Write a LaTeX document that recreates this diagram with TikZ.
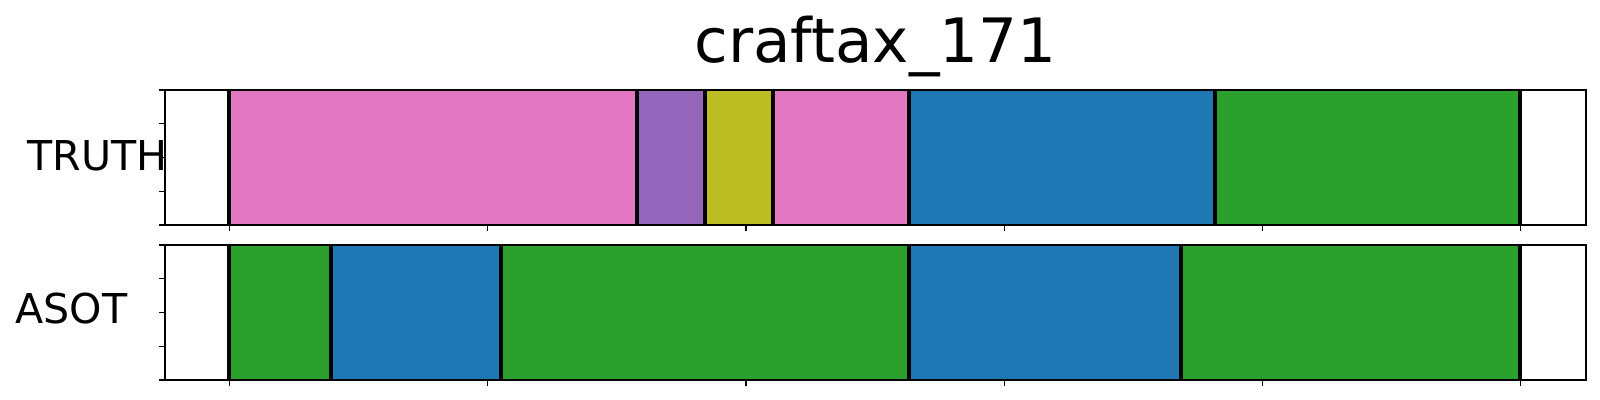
\documentclass[tikz,border=0pt]{standalone}
\usepackage{fontspec}
\setmainfont{DejaVu Sans}
\usepackage{tikz}

\definecolor{tabpink}{HTML}{E377C2}
\definecolor{tabpurple}{HTML}{9467BD}
\definecolor{tabolive}{HTML}{BCBD22}
\definecolor{tabblue}{HTML}{1F77B4}
\definecolor{tabgreen}{HTML}{2CA02C}

\begin{document}
\begin{tikzpicture}
  [x=0.01cm,y=-0.01cm,
   frame/.style={draw=black,line width=0.57pt},
   bound/.style={draw=black,line width=1.1pt},
   tick mark/.style={draw=black,line width=0.4pt},
   row label/.style={font=\fontsize{11.7pt}{14pt}\selectfont,anchor=base,inner sep=0pt},
   title label/.style={font=\fontsize{17.4pt}{21pt}\selectfont,anchor=base,inner sep=0pt}]
  \useasboundingbox (0,0) rectangle (1600,400);

  \node[title label] (title) at (875.5,62.3) {craftax\_171};
  \node[row label] (truth) at (97.5,170) {TRUTH};
  \node[row label] (asot) at (71.4,323.3) {ASOT};

  % TRUTH row
  \fill[tabpink] (229.3,90) rectangle (636.7,225);
  \fill[tabpurple] (636.7,90) rectangle (705,225);
  \fill[tabolive] (705,90) rectangle (772.7,225);
  \fill[tabpink] (772.7,90) rectangle (908.7,225);
  \fill[tabblue] (908.7,90) rectangle (1214.7,225);
  \fill[tabgreen] (1214.7,90) rectangle (1520,225);
  \draw[bound] (229.3,90) -- (229.3,225);
  \draw[bound] (636.7,90) -- (636.7,225);
  \draw[bound] (705,90) -- (705,225);
  \draw[bound] (772.7,90) -- (772.7,225);
  \draw[bound] (908.7,90) -- (908.7,225);
  \draw[bound] (1214.7,90) -- (1214.7,225);
  \draw[bound] (1520,90) -- (1520,225);
  \draw[frame] (165,90) rectangle (1586,225);

  % ASOT row
  \fill[tabgreen] (229.3,245) rectangle (330.7,380);
  \fill[tabblue] (330.7,245) rectangle (500.7,380);
  \fill[tabgreen] (500.7,245) rectangle (908.7,380);
  \fill[tabblue] (908.7,245) rectangle (1180.7,380);
  \fill[tabgreen] (1180.7,245) rectangle (1520,380);
  \draw[bound] (229.3,245) -- (229.3,380);
  \draw[bound] (330.7,245) -- (330.7,380);
  \draw[bound] (500.7,245) -- (500.7,380);
  \draw[bound] (908.7,245) -- (908.7,380);
  \draw[bound] (1180.7,245) -- (1180.7,380);
  \draw[bound] (1520,245) -- (1520,380);
  \draw[frame] (165,245) rectangle (1586,380);

  % ticks
  \draw[tick mark] (159.3,90) -- (165,90) (159.3,123.75) -- (165,123.75)
    (159.3,157.5) -- (165,157.5) (159.3,191.25) -- (165,191.25) (159.3,225) -- (165,225);
  \draw[tick mark] (159.3,245) -- (165,245) (159.3,278.75) -- (165,278.75)
    (159.3,312.5) -- (165,312.5) (159.3,346.25) -- (165,346.25) (159.3,380) -- (165,380);
  \draw[tick mark] (229.5,225) -- (229.5,230.7) (487.75,225) -- (487.75,230.7)
    (746,225) -- (746,230.7) (1004.25,225) -- (1004.25,230.7)
    (1262.5,225) -- (1262.5,230.7) (1520.75,225) -- (1520.75,230.7);
  \draw[tick mark] (229.5,380) -- (229.5,385.7) (487.75,380) -- (487.75,385.7)
    (746,380) -- (746,385.7) (1004.25,380) -- (1004.25,385.7)
    (1262.5,380) -- (1262.5,385.7) (1520.75,380) -- (1520.75,385.7);

\end{tikzpicture}
\end{document}
